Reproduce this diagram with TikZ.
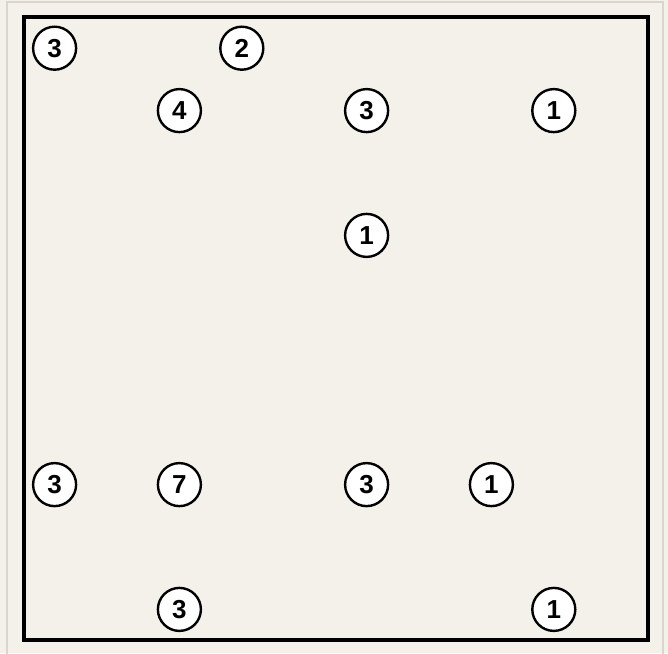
\documentclass[tikz,border=0pt]{standalone}
\usepackage{fontspec}
\setmainfont{Liberation Sans}
\newfontfamily\isfont{Liberation Sans}
\definecolor{bg}{HTML}{F4F1EA}
\definecolor{frame}{HTML}{DAD6CE}
\newcommand{\isnum}[1]{\isfont\bfseries\fontsize{26}{26}\selectfont #1}
\tikzset{
  isle/.style={circle, draw=black, line width=2.4pt, fill=white, minimum size=43pt, inner sep=0pt},
}
\begin{document}
\begin{tikzpicture}[x=1pt,y=-1pt]
\fill[bg] (0,0) rectangle (668,653);
\useasboundingbox (0,0) rectangle (668,653);
\draw[frame, line width=2pt] (7.3,1.5) rectangle (663,670);
\draw[black, line width=3.8pt] (23.7,16.7) rectangle (647.8,640);
\node[isle] (a) at (54.6,48.2) {\isnum{3}};
\node[isle] (b) at (241.8,48.2) {\isnum{2}};
\node[isle] (c) at (179.4,110.6) {\isnum{4}};
\node[isle] (d) at (366.6,110.6) {\isnum{3}};
\node[isle] (e) at (553.8,110.6) {\isnum{1}};
\node[isle] (f) at (366.6,235.4) {\isnum{1}};
\node[isle] (g) at (54.6,484.6) {\isnum{3}};
\node[isle] (h) at (179.4,484.6) {\isnum{7}};
\node[isle] (i) at (366.6,484.6) {\isnum{3}};
\node[isle] (j) at (491.4,484.6) {\isnum{1}};
\node[isle] (k) at (179.4,609.4) {\isnum{3}};
\node[isle] (l) at (553.8,609.4) {\isnum{1}};
\end{tikzpicture}
\end{document}
